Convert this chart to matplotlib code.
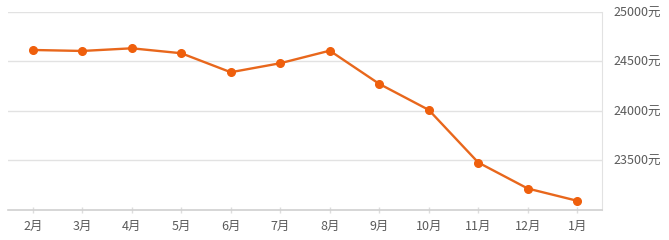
import matplotlib
matplotlib.use("Agg")
import matplotlib.pyplot as plt

months = ["2月", "3月", "4月", "5月", "6月", "7月", "8月", "9月", "10月", "11月", "12月", "1月"]
prices = [24613, 24603, 24630, 24580, 24388, 24479, 24606, 24270, 24007, 23475, 23212, 23088]
yticks = [23500, 24000, 24500, 25000]
ytick_labels = ["23500元", "24000元", "24500元", "25000元"]

plt.rcParams['font.family'] = ['Noto Sans CJK SC', 'DejaVu Sans']

fig = plt.figure(figsize=(6.69, 2.40), dpi=100)
ax = fig.add_axes([8/669, 1 - 209.5/240, (602 - 8)/669, (209.5 - 11.7)/240])

x = list(range(len(months)))
ax.plot(x, prices, color="#e8671c", linewidth=1.7, marker="o", markersize=5.5,
        markerfacecolor="#ef5f0c", markeredgecolor="#ef5f0c", zorder=3, clip_on=False)

ax.set_xlim(-0.5, len(months) - 0.5)
ax.set_ylim(23000, 25000)
ax.set_xticks(x)
ax.set_xticklabels(months)
ax.set_yticks(yticks)
ax.set_yticklabels(ytick_labels)
ax.yaxis.tick_right()

ax.grid(axis="y", color="#e2e2e2", linewidth=1)
ax.set_axisbelow(True)

for s in ["top", "left"]:
    ax.spines[s].set_visible(False)
ax.spines["right"].set_color("#e2e2e2")
ax.spines["bottom"].set_color("#d0d0d0")
ax.spines["bottom"].set_linewidth(1.2)

ax.tick_params(axis="y", length=0, pad=8, labelsize=9, labelcolor="#5a5a5a")
ax.tick_params(axis="x", direction="inout", length=5, width=1, color="#dddddd", pad=5,
               labelsize=9, labelcolor="#5a5a5a")

fig.savefig("out.png", dpi=100, facecolor="white")
